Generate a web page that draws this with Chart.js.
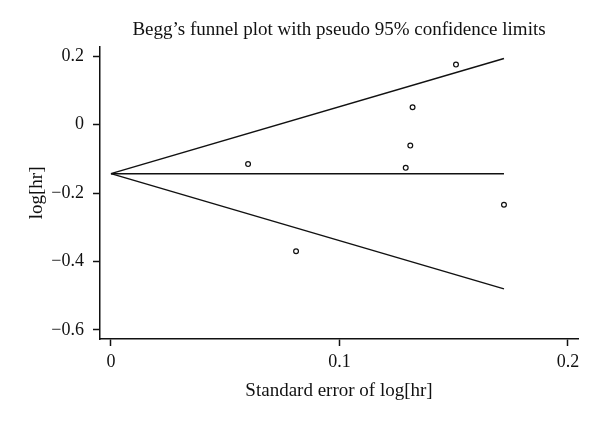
<!DOCTYPE html>
<html>
<head>
<meta charset="utf-8">
<script src="https://cdn.jsdelivr.net/npm/chart.js@4"></script>
<style>
  html, body { margin: 0; padding: 0; background: #fff; }
  #wrap { width: 600px; height: 423px; }
</style>
</head>
<body>
<div id="wrap"><canvas id="chart" width="600" height="423"></canvas></div>
<script>
// study points: standard error vs log[hr]
var seVals = [0.060, 0.081, 0.129, 0.131, 0.132, 0.151, 0.172];
var logHr = [-0.115, -0.370, -0.126, -0.061, 0.051, 0.176, -0.234];
// pooled estimate and pseudo 95% limits
var pooledSe = [0, 0.172];
var pooledVal = [-0.143, -0.143];
var upperVal = [-0.143, 0.194];
var lowerVal = [-0.143, -0.480];
// tick labels
var xTicks = [0, 0.1, 0.2];
var yTicks = [0.2, 0, -0.2, -0.4, -0.6];

function pts(xs, ys) {
	var out = [];
	for (var i = 0; i < xs.length; i++) out.push({ x: xs[i], y: ys[i] });
	return out;
}
function fmt(v) {
	var s = String(Math.round(v * 10) / 10);
	return s.replace("-", "\u2212");
}

var font = "'Liberation Serif', 'DejaVu Serif', serif";
Chart.defaults.font.family = font;
Chart.defaults.color = "#111";

var lineStyle = {
	type: "line",
	borderColor: "#111",
	borderWidth: 1.5,
	pointRadius: 0,
	fill: false,
	tension: 0,
};

var ctx = document.getElementById("chart").getContext("2d");
var chart = new Chart(ctx, {
	type: "scatter",
	data: {
		datasets: [
			Object.assign({ label: "upper", data: pts(pooledSe, upperVal) }, lineStyle),
			Object.assign({ label: "pooled", data: pts(pooledSe, pooledVal) }, lineStyle),
			Object.assign({ label: "lower", data: pts(pooledSe, lowerVal) }, lineStyle),
			{
				label: "studies",
				data: pts(seVals, logHr),
				pointRadius: 2.4,
				pointBorderWidth: 1.2,
				pointBorderColor: "#111",
				pointBackgroundColor: "#fff",
			},
		],
	},
	options: {
		responsive: false,
		animation: false,
		layout: { padding: { left: 22, right: 22, top: 0, bottom: 17 } },
		plugins: {
			legend: { display: false },
			tooltip: { enabled: false },
			title: {
				display: true,
				fullSize: false,
				text: "Begg\u2019s funnel plot with pseudo 95% confidence limits",
				font: { size: 19, weight: "normal" },
				color: "#111",
				padding: { top: 19, bottom: 5 },
			},
		},
		scales: {
			x: {
				type: "linear",
				min: -0.0048,
				max: 0.2044,
				afterBuildTicks: function (s) { s.ticks = xTicks.map(function (v) { return { value: v }; }); },
				afterFit: function (s) { s.height = 423 - 339 - 17; },
				grid: { drawOnChartArea: false, tickLength: 7, tickWidth: 1.5, tickColor: "#111" },
				border: { display: true, color: "#111", width: 1.5 },
				ticks: { font: { size: 18 }, padding: 5, maxRotation: 0, callback: function (v) { return fmt(v); } },
				title: { display: true, text: "Standard error of log[hr]", font: { size: 19 }, padding: { top: 4, bottom: 4 } },
			},
			y: {
				type: "linear",
				min: -0.6266,
				max: 0.228,
				afterBuildTicks: function (s) { s.ticks = yTicks.map(function (v) { return { value: v }; }); },
				afterFit: function (s) { s.width = 100 - 22; },
				grid: { drawOnChartArea: false, tickLength: 7, tickWidth: 1.5, tickColor: "#111" },
				border: { display: true, color: "#111", width: 1.5 },
				ticks: { font: { size: 18 }, padding: 9, callback: function (v) { return fmt(v); } },
				title: { display: true, text: "log[hr]", font: { size: 19 }, padding: { top: 4, bottom: 4 } },
			},
		},
	},
});
</script>
</body>
</html>
